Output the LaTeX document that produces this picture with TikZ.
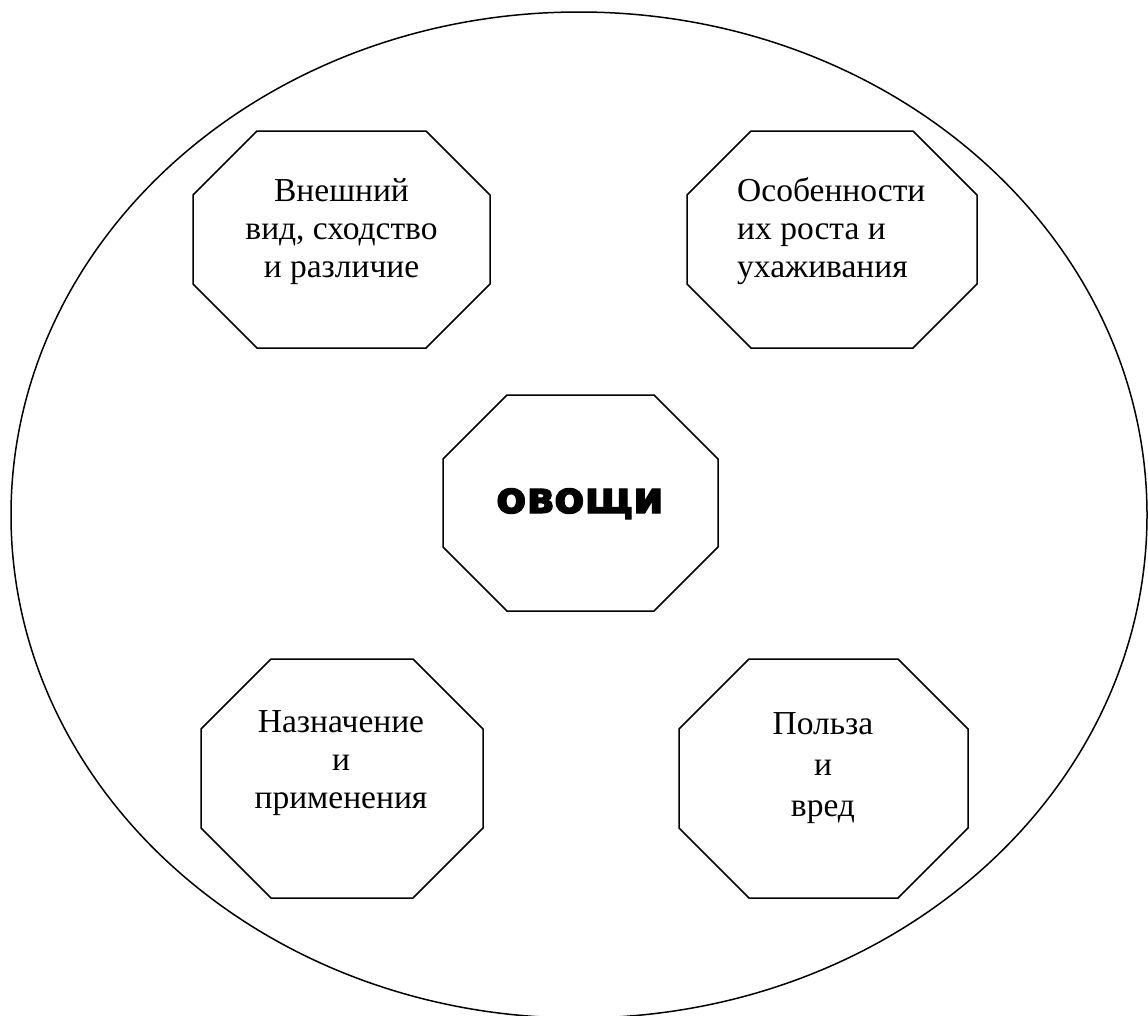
\documentclass[tikz,border=0pt]{standalone}
\usepackage{fontspec}
\setmainfont{Liberation Serif}
\newfontfamily\headfont{DejaVu Sans}[BoldFeatures={FakeBold=2.5}]
\begin{document}
\begin{tikzpicture}[x=1pt,y=-1pt,
  frame/.style={inner sep=0pt, outer sep=0pt},
  octline/.style={draw, line width=1.5pt, line join=miter},
  lbl/.style={font=\fontsize{33.5}{38}\selectfont, inner sep=0pt}]
\newcommand\octabox[6]{% name, cx, cy, width, height, chamfer
  \node[frame, minimum width=#4pt, minimum height=#5pt] (#1) at (#2,#3) {};
  \draw[octline] ([xshift=#6pt]#1.north west) -- ([xshift=-#6pt]#1.north east)
    -- ([yshift=-#6pt]#1.north east) -- ([yshift=#6pt]#1.south east)
    -- ([xshift=-#6pt]#1.south east) -- ([xshift=#6pt]#1.south west)
    -- ([yshift=#6pt]#1.south west) -- ([yshift=-#6pt]#1.north west) -- cycle;}
\useasboundingbox (0,0) rectangle (1148,1015);
\clip (0,0) rectangle (1148,1015);
\draw[line width=1.5pt] (579,515) ellipse [x radius=568, y radius=503];
\octabox{tl}{341.5}{239.5}{297}{217}{64}
\octabox{tr}{832}{239.5}{290}{217}{64}
\octabox{c}{580.5}{503}{275}{216}{64}
\octabox{bl}{342}{778.5}{282}{239}{70}
\octabox{br}{823.5}{778.5}{289}{239}{70}
\node[lbl, align=center, anchor=base] (tltext) at (341.5,277) {Внешний\\вид, сходство\\и различие};
\node[lbl, align=left, anchor=base west] (trtext) at (737,277) {Особенности\\их роста и\\ухаживания};
\node[lbl, align=center, anchor=base] (bltext) at (341,808) {Назначение\\и\\применения};
\node[lbl, align=center, anchor=base, font=\fontsize{33.5}{41}\selectfont] (brtext) at (823,816) {Польза\\и\\вред};
\node[inner sep=0pt, anchor=base, font=\headfont\bfseries\fontsize{44}{50}\selectfont] (ctext) at (580,513) {овощи};
\end{tikzpicture}
\end{document}
